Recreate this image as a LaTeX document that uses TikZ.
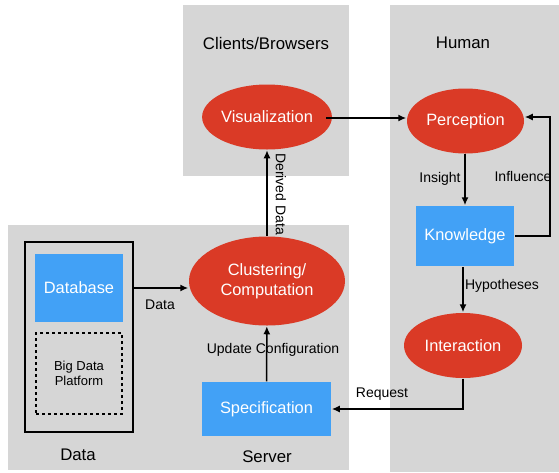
\documentclass[tikz,border=0pt]{standalone}
\usepackage{fontspec}
\setmainfont{Liberation Sans}
\usetikzlibrary{arrows.meta,shapes.geometric}
\definecolor{panelgray}{RGB}{214,214,214}
\definecolor{procred}{RGB}{218,58,38}
\definecolor{storeblue}{RGB}{66,161,246}
\tikzset{
  panel/.style={fill=panelgray, draw=none},
  proc/.style={ellipse, fill=procred, text=white, inner sep=0pt, align=center,
    font=\fontsize{16.4}{20}\selectfont},
  store/.style={rectangle, fill=storeblue, text=white, inner sep=0pt,
    font=\fontsize{16.4}{20}\selectfont},
  lbl/.style={font=\fontsize{14}{16}\selectfont, inner sep=0pt},
  title/.style={font=\fontsize{16.8}{20}\selectfont, inner sep=0pt},
}
\begin{document}
\begin{tikzpicture}[x=1pt, y=-1pt, >={Latex[length=8pt,width=7pt]}, line width=1.5pt]
  \useasboundingbox (0,0) rectangle (559,472);
  % panels
  \fill[panel] (183,5) rectangle (349,176);
  \fill[panel] (390,5) rectangle (559,472);
  \fill[panel] (8,225) rectangle (349,470);
  \node[title] (clients) at (266,43) {Clients/Browsers};
  \node[title] (human) at (463,43) {Human};
  \node[title] (server) at (267,457) {Server};
  \node[title] (datatitle) at (78,455) {Data};

  % data store
  \draw[line width=2pt] (25,242) rectangle (133,432);
  \coordinate (dataout) at (133,288);
  \node[store, minimum width=88pt, minimum height=68pt] (db) at (79,288) {Database};
  \node[draw, dashed, dash pattern=on 3pt off 3pt, minimum width=86pt, minimum height=81pt,
    inner sep=0pt, align=center, font=\fontsize{13}{15}\selectfont] (bigdata) at (79,373.5) {Big Data\\Platform};

  % processes
  \node[proc, minimum width=156pt, minimum height=89pt] (cluster) at (267,281) {Clustering/\\Computation};
  \node[proc, minimum width=118pt, minimum height=65pt] (vis) at (267,117) {Visualization};
  \node[proc, minimum width=117pt, minimum height=65pt] (percep) at (465.5,121) {Perception};
  \node[store, minimum width=98pt, minimum height=60pt] (know) at (465,236) {Knowledge};
  \node[proc, minimum width=118pt, minimum height=65pt] (inter) at (463,345.5) {Interaction};
  \node[store, minimum width=129pt, minimum height=54pt] (spec) at (266.5,409) {Specification};

  % connectors
  \coordinate (visout) at (326,118);
  \draw[->] (dataout) -- (cluster.west |- dataout);
  \node[lbl] (datalbl) at (160,305) {Data};
  \draw[->] (spec) -- (cluster);
  \node[lbl] (updlbl) at (273,350) {Update Configuration};
  \draw[->] (cluster) -- (vis);
  \node[lbl, rotate=-90] (derlbl) at (281,194) {Derived Data};
  \draw[->] (visout) -- (percep.west |- visout);
  \draw[->] (percep.south -| know.north) -- (know.north);
  \node[lbl] (inslbl) at (440,179) {Insight};
  \draw[->] (know.east) -| (550,117) -- (percep.east |- 0,117);
  \node[lbl] (inflbl) at (523,176) {Influence};
  \draw[->] (know.south -| inter.north) -- (inter.north);
  \node[lbl] (hyplbl) at (502,286) {Hypotheses};
  \draw[->] (inter.south) |- (spec.east);
  \node[lbl] (reqlbl) at (382,394) {Request};
\end{tikzpicture}
\end{document}
